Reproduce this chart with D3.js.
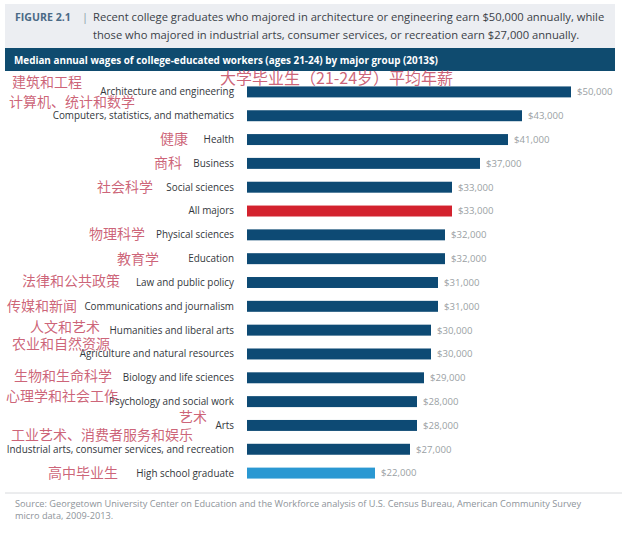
<!DOCTYPE html>
<html><head><meta charset="utf-8">
<script src="https://cdn.jsdelivr.net/npm/d3@7"></script>
<style>body{margin:0;background:#fff}svg{display:block}</style>
</head><body>
<script>
const categories = ["Architecture and engineering","Computers, statistics, and mathematics","Health","Business","Social sciences","All majors","Physical sciences","Education","Law and public policy","Communications and journalism","Humanities and liberal arts","Agriculture and natural resources","Biology and life sciences","Psychology and social work","Arts","Industrial arts, consumer services, and recreation","High school graduate"];
const categoriesZh = ["建筑和工程","计算机、统计和数学","健康","商科","社会科学","","物理科学","教育学","法律和公共政策","传媒和新闻","人文和艺术","农业和自然资源","生物和生命科学","心理学和社会工作","艺术","工业艺术、消费者服务和娱乐","高中毕业生"];
const wages = [50000,43000,41000,37000,33000,33000,32000,32000,31000,31000,30000,30000,29000,28000,28000,27000,22000];
const barKind = ["major","major","major","major","major","all","major","major","major","major","major","major","major","major","major","major","hs"];
const valueLabels = wages.map(v => "$" + d3.format(",")(v));
const titleLine1 = "Recent college graduates who majored in architecture or engineering earn $50,000 annually, while";
const titleLine2 = "those who majored in industrial arts, consumer services, or recreation earn $27,000 annually.";
const bannerText = "Median annual wages of college-educated workers (ages 21-24) by major group (2013$)";
const zhTitle = "大学毕业生（21-24岁）平均年薪";
const sourceLines = ["Source: Georgetown University Center on Education and the Workforce analysis of U.S. Census Bureau, American Community Survey","micro data, 2009-2013."];

// layout for Chinese annotations: [right edge x, dy from row centre]
const zhLayout = [[82,-10],[135,-14],[188,0],[182,0],[153,0],[0,0],[145,-1],[159,0],[120,-1],[77,0],[100,-3],[110,-10],[112,-2],[118,-6],[207,-8],[193,-14],[118,0]];

const W = 642, H = 541;
const svg = d3.select("body").append("svg").attr("width", W).attr("height", H);

// header box
svg.append("rect").attr("x",5).attr("y",4).attr("width",610).attr("height",44).attr("fill","#eceef2");
svg.append("text").attr("x",15).attr("y",21).attr("font-family","Open Sans, sans-serif").attr("font-size",10.6)
  .attr("font-weight","bold").attr("fill","#4a6a86").text("FIGURE 2.1");
svg.append("text").attr("x",82).attr("y",21).attr("font-family","Open Sans, sans-serif").attr("font-size",11)
  .attr("fill","#8a9aa8").text("|");
svg.append("text").attr("x",93).attr("y",21).attr("font-family","Open Sans, sans-serif").attr("font-size",11.2)
  .attr("fill","#3a4148").text(titleLine1);
svg.append("text").attr("x",93).attr("y",39).attr("font-family","Open Sans, sans-serif").attr("font-size",11.2)
  .attr("fill","#3a4148").text(titleLine2);

// banner
svg.append("rect").attr("x",5).attr("y",48).attr("width",610).attr("height",23).attr("fill","#0f4b6f");
svg.append("text").attr("x",14).attr("y",64).attr("font-family","Open Sans, sans-serif").attr("font-weight","bold").attr("font-size",9.9).attr("fill","#fff").text(bannerText);

const x = d3.scaleLinear().domain([0,50000]).range([221,571]);
const y = d3.scaleBand().domain(categories).range([80,485]).paddingInner(0.54).paddingOuter(0.27);
const barLeft = 247;
const colors = {major:"#0d4a74", all:"#d3222e", hs:"#2a98d2"};

const g = svg.append("g");
g.selectAll("rect.bar").data(categories).join("rect").attr("class","bar")
  .attr("x", barLeft).attr("y", d => y(d))
  .attr("width", (d,i) => x(wages[i]) - barLeft).attr("height", y.bandwidth())
  .attr("fill", (d,i) => colors[barKind[i]]);

g.selectAll("text.val").data(categories).join("text").attr("class","val")
  .attr("x", (d,i) => x(wages[i]) + 6).attr("y", d => y(d) + y.bandwidth()/2).attr("dy","0.35em")
  .attr("font-family","Open Sans, sans-serif").attr("font-size",9.6).attr("fill","#9a9fa4")
  .text((d,i) => valueLabels[i]);

g.selectAll("text.cat").data(categories).join("text").attr("class","cat")
  .attr("x", 234).attr("y", d => y(d) + y.bandwidth()/2).attr("dy","0.35em").attr("text-anchor","end")
  .attr("font-family","Open Sans, sans-serif").attr("font-size",9.9).attr("fill","#33373c")
  .text(d => d);

g.selectAll("text.zh").data(categories).join("text").attr("class","zh")
  .attr("x", (d,i) => zhLayout[i][0]).attr("y", (d,i) => y(d) + y.bandwidth()/2 + zhLayout[i][1]).attr("dy","0.35em").attr("text-anchor","end")
  .attr("font-family","Noto Sans CJK SC, sans-serif").attr("font-size",14).attr("fill","#c8566c").attr("fill-opacity",0.92)
  .text((d,i) => categoriesZh[i]);

svg.append("text").attr("x",220).attr("y",78).attr("dy","0.35em")
  .attr("font-family","Noto Sans CJK SC, sans-serif").attr("font-size",16).attr("fill","#c8566c").attr("fill-opacity",0.92).text(zhTitle);

// footer
svg.append("line").attr("x1",5).attr("x2",622).attr("y1",493).attr("y2",493).attr("stroke","#d8dadd").attr("stroke-width",1);
sourceLines.forEach((s,i) => svg.append("text").attr("x",15).attr("y",507 + i*12)
  .attr("font-family","Open Sans, sans-serif").attr("font-size",9.2).attr("fill","#8e949a").text(s));
</script>
</body></html>
